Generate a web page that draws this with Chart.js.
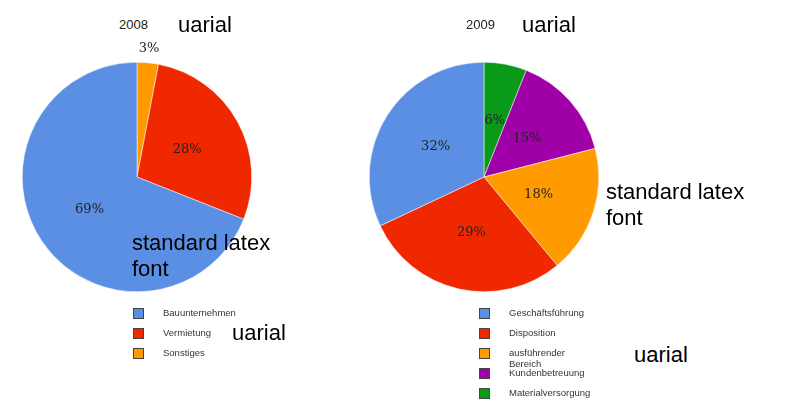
<!DOCTYPE html>
<html><head><meta charset="utf-8">
<script src="https://cdn.jsdelivr.net/npm/chart.js@4"></script>
<style>
body{margin:0;width:799px;height:416px;background:#fff;position:relative;font-family:"Liberation Sans",Arial,sans-serif;overflow:hidden}
.c{position:absolute;width:280px;height:280px}
.t{position:absolute;font-size:13px;color:#222}
.a{position:absolute;font-size:22px;color:#000;line-height:26px}
.lg{position:absolute;font-size:9.5px;color:#333}
.lg div{height:20px;position:relative}
.lg span.m{position:absolute;left:0;top:0;width:9px;height:9px;border:1px solid #444}
.lg span.x{position:absolute;left:30px;top:-1px}
</style></head><body>
<div class="c" style="left:-3px;top:37px"><canvas id="p1"></canvas></div>
<div class="c" style="left:344px;top:37px"><canvas id="p2"></canvas></div>
<div class="t" style="left:119px;top:17px">2008</div>
<div class="t" style="left:466px;top:17px">2009</div>
<div class="a" style="left:178px;top:12px">uarial</div>
<div class="a" style="left:522px;top:12px">uarial</div>
<div class="a" style="left:132px;top:230px">standard latex<br>font</div>
<div class="a" style="left:606px;top:179px">standard latex<br>font</div>
<div class="a" style="left:232px;top:320px">uarial</div>
<div class="a" style="left:634px;top:342px">uarial</div>
<div class="lg" id="l1" style="left:133px;top:308px"></div>
<div class="lg" id="l2" style="left:479px;top:308px"></div>
<script>
const labels2008=["Sonstiges","Vermietung","Bauunternehmen"];
const values2008=[3,28,69];
const colors2008=["#ff9a00","#f02800","#5b8fe4"];
const labels2009=["Materialversorgung","Kundenbetreuung","ausführender Bereich","Disposition","Geschäftsführung"];
const values2009=[6,15,18,29,32];
const colors2009=["#0a9a1a","#a000a8","#ff9a00","#f02800","#5b8fe4"];
const pct={id:"pct",afterDatasetsDraw(ch){const ctx=ch.ctx;const meta=ch.getDatasetMeta(0);const d=ch.data.datasets[0].data;
ctx.save();ctx.font='13px "DejaVu Serif","Liberation Serif",serif';ctx.fillStyle="#222";ctx.textAlign="center";ctx.textBaseline="middle";
meta.data.forEach((arc,i)=>{const a=(arc.startAngle+arc.endAngle)/2;const f=d[i]<5?1.12:0.5;const r=arc.outerRadius*f;
ctx.fillText(d[i]+"%",arc.x+Math.cos(a)*r,arc.y+Math.sin(a)*r);});ctx.restore();}};
function pie(id,l,v,c){new Chart(document.getElementById(id),{type:"pie",data:{labels:l,datasets:[{data:v,backgroundColor:c,borderWidth:0.5,borderColor:"#fff"}]},
options:{responsive:true,maintainAspectRatio:false,animation:false,layout:{padding:25},plugins:{legend:{display:false},tooltip:{enabled:false}}},plugins:[pct]});}
pie("p1",labels2008,values2008,colors2008);
pie("p2",labels2009,values2009,colors2009);
function leg(id,l,c){const el=document.getElementById(id);for(let i=l.length-1;i>=0;i--){el.innerHTML+=`<div><span class="m" style="background:${c[i]}"></span><span class="x">${l[i]}</span></div>`;}}
leg("l1",labels2008,colors2008);leg("l2",labels2009,colors2009);
</script></body></html>
